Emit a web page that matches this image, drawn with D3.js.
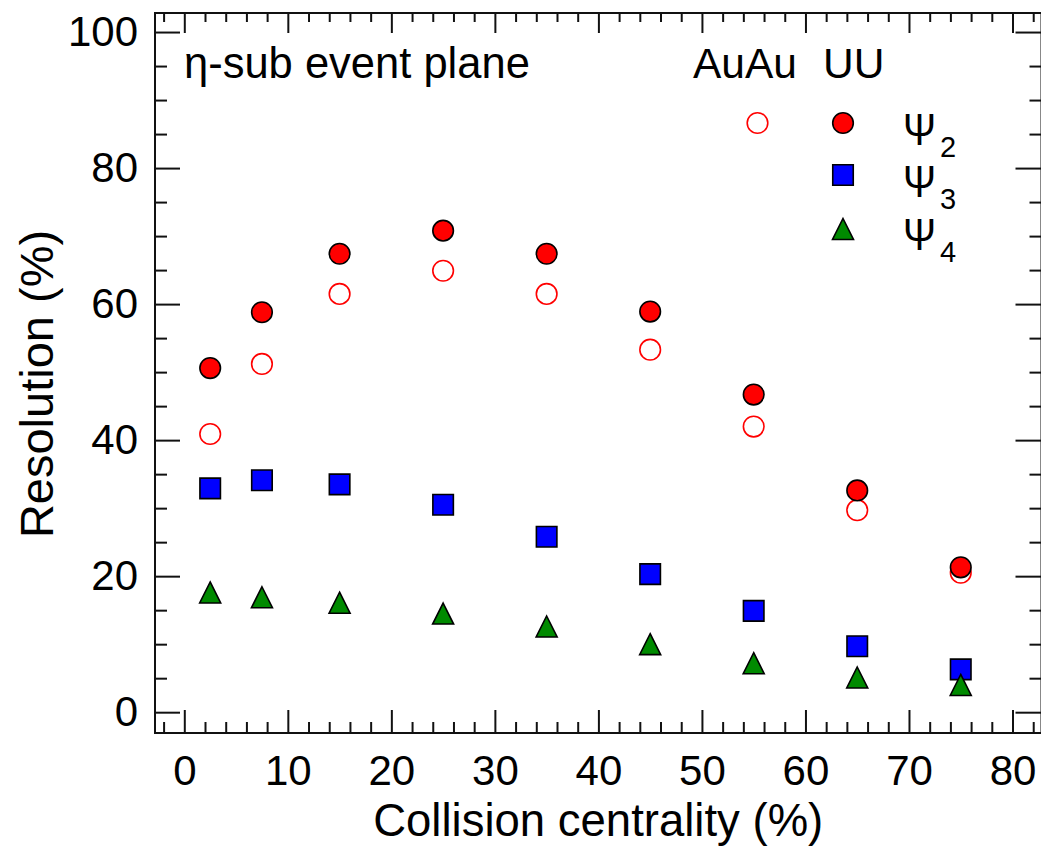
<!DOCTYPE html>
<html>
<head>
<meta charset="utf-8">
<script src="https://cdn.jsdelivr.net/npm/d3@7"></script>
<style>
  html, body { margin: 0; padding: 0; background: #fff; }
  svg { display: block; font-family: "Liberation Sans", Arial, Helvetica, sans-serif; }
</style>
</head>
<body>
<div id="chart"></div>
<script>
// ---- data ----
const centrality = [2.5, 7.5, 15, 25, 35, 45, 55, 65, 75];
const auauPsi2 = [40.9, 51.2, 61.5, 64.9, 61.5, 53.3, 42.0, 29.7, 20.5];
const uuPsi2 = [50.6, 58.8, 67.4, 70.8, 67.4, 58.9, 46.7, 32.6, 21.3];
const uuPsi3 = [32.9, 34.1, 33.5, 30.5, 25.8, 20.3, 14.9, 9.7, 6.3];
const uuPsi4 = [17.6, 16.9, 16.1, 14.5, 12.6, 10.0, 7.2, 5.1, 4.0];
const xTicks = [0, 10, 20, 30, 40, 50, 60, 70, 80];
const yTicks = [0, 20, 40, 60, 80, 100];
const legendRows = ["2", "3", "4"];

// ---- layout ----
const W = 1041, H = 854;
const L = 155, T = 13, R = 1041.5, B = 733;
const RED = "#ff0000", BLUE = "#0000ff", GREEN = "#008a00";

const svg = d3.select("#chart").append("svg").attr("width", W).attr("height", H);
svg.append("rect").attr("width", W).attr("height", H).attr("fill", "#fff");

const x = d3.scaleLinear().domain([-2.83, 82.8]).range([L, R]);
const y = d3.scaleLinear().domain([-3.06, 102.8]).range([B, T]);

const xMinor = d3.range(-2, 83, 2).filter(v => v % 10 !== 0);
const yMinor = d3.range(0, 103, 5).filter(v => v % 20 !== 0);

function styleAxis(g) {
  g.select(".domain").remove();
  g.selectAll(".tick line").attr("stroke", "#111").attr("stroke-width", 2);
  g.selectAll("text").attr("fill", "#000").attr("font-family", "Liberation Sans, Arial, sans-serif");
}

// bottom
svg.append("g").attr("transform", `translate(0,${B})`)
  .call(d3.axisBottom(x).tickValues(xTicks).tickSize(-23).tickPadding(22).tickFormat(d3.format("d")))
  .call(styleAxis).selectAll("text").attr("font-size", 42);
svg.append("g").attr("transform", `translate(0,${B})`)
  .call(d3.axisBottom(x).tickValues(xMinor).tickSize(-11).tickFormat(""))
  .call(styleAxis);
// top
svg.append("g").attr("transform", `translate(0,${T})`)
  .call(d3.axisTop(x).tickValues(xTicks).tickSize(-20).tickFormat(""))
  .call(styleAxis);
svg.append("g").attr("transform", `translate(0,${T})`)
  .call(d3.axisTop(x).tickValues(xMinor).tickSize(-9).tickFormat(""))
  .call(styleAxis);
// left
svg.append("g").attr("transform", `translate(${L},0)`)
  .call(d3.axisLeft(y).tickValues(yTicks).tickSize(-25).tickPadding(17).tickFormat(d3.format("d")))
  .call(styleAxis).selectAll("text").attr("font-size", 42);
svg.append("g").attr("transform", `translate(${L},0)`)
  .call(d3.axisLeft(y).tickValues(yMinor).tickSize(-12).tickFormat(""))
  .call(styleAxis);
// right
svg.append("g").attr("transform", `translate(${R},0)`)
  .call(d3.axisRight(y).tickValues(yTicks).tickSize(-26).tickFormat(""))
  .call(styleAxis);
svg.append("g").attr("transform", `translate(${R},0)`)
  .call(d3.axisRight(y).tickValues(yMinor).tickSize(-12).tickFormat(""))
  .call(styleAxis);

// frame
svg.append("rect").attr("x", L).attr("y", T).attr("width", R - L).attr("height", B - T)
  .attr("fill", "none").attr("stroke", "#111").attr("stroke-width", 2);

// axis titles
svg.append("text").attr("x", (L + R) / 2).attr("y", 836).attr("text-anchor", "middle")
  .attr("font-size", 45.5).text("Collision centrality (%)");
svg.append("text").attr("transform", `translate(53,384) rotate(-90)`).attr("text-anchor", "middle")
  .attr("font-size", 47).text("Resolution (%)");

// annotations
svg.append("text").attr("x", 184).attr("y", 78).attr("font-size", 43.5).text("η-sub event plane");
svg.append("text").attr("x", 693).attr("y", 78).attr("font-size", 42.5).text("AuAu");
svg.append("text").attr("x", 823).attr("y", 78).attr("font-size", 42.5).text("UU");

// symbols
const triType = {
  draw(ctx, size) {
    const s = Math.sqrt(size);
    ctx.moveTo(0, -s / 2); ctx.lineTo(s / 2, s / 2); ctx.lineTo(-s / 2, s / 2); ctx.closePath();
  }
};
const sqType = {
  draw(ctx, size) {
    const s = Math.sqrt(size);
    ctx.rect(-s / 2, -s / 2, s, s);
  }
};
const circR = 10.3;

const plot = svg.append("g");
plot.selectAll("circle.auau").data(centrality.map((c, i) => [c, auauPsi2[i]])).join("circle")
  .attr("class", "auau").attr("cx", d => x(d[0])).attr("cy", d => y(d[1])).attr("r", circR)
  .attr("fill", "#fff").attr("stroke", RED).attr("stroke-width", 1.6);
plot.selectAll("circle.uu").data(centrality.map((c, i) => [c, uuPsi2[i]])).join("circle")
  .attr("class", "uu").attr("cx", d => x(d[0])).attr("cy", d => y(d[1])).attr("r", circR)
  .attr("fill", RED).attr("stroke", "#000").attr("stroke-width", 1.6);
plot.selectAll("path.sq").data(centrality.map((c, i) => [c, uuPsi3[i]])).join("path")
  .attr("class", "sq").attr("transform", d => `translate(${x(d[0])},${y(d[1])})`)
  .attr("d", d3.symbol().type(sqType).size(20.5 * 20.5))
  .attr("fill", BLUE).attr("stroke", "#000").attr("stroke-width", 1.6);
plot.selectAll("path.tri").data(centrality.map((c, i) => [c, uuPsi4[i]])).join("path")
  .attr("class", "tri").attr("transform", d => `translate(${x(d[0])},${y(d[1])})`)
  .attr("d", d3.symbol().type(triType).size(21 * 21))
  .attr("fill", GREEN).attr("stroke", "#000").attr("stroke-width", 1.6);

// legend
const lg = svg.append("g");
lg.append("circle").attr("cx", 757.5).attr("cy", 123).attr("r", circR)
  .attr("fill", "#fff").attr("stroke", RED).attr("stroke-width", 1.6);
lg.append("circle").attr("cx", 843).attr("cy", 123).attr("r", circR)
  .attr("fill", RED).attr("stroke", "#000").attr("stroke-width", 1.6);
lg.append("path").attr("transform", "translate(843,175)")
  .attr("d", d3.symbol().type(sqType).size(20.5 * 20.5))
  .attr("fill", BLUE).attr("stroke", "#000").attr("stroke-width", 1.6);
lg.append("path").attr("transform", "translate(843,229)")
  .attr("d", d3.symbol().type(triType).size(21 * 21))
  .attr("fill", GREEN).attr("stroke", "#000").attr("stroke-width", 1.6);

const psiBase = [145, 196.7, 250];
legendRows.forEach((sub, i) => {
  lg.append("text").attr("x", 903).attr("y", psiBase[i]).attr("font-size", 44)
    .attr("textLength", 33).attr("lengthAdjust", "spacingAndGlyphs").text("Ψ");
  lg.append("text").attr("x", 940).attr("y", psiBase[i] + 12).attr("font-size", 29).text(sub);
});
</script>
</body>
</html>
